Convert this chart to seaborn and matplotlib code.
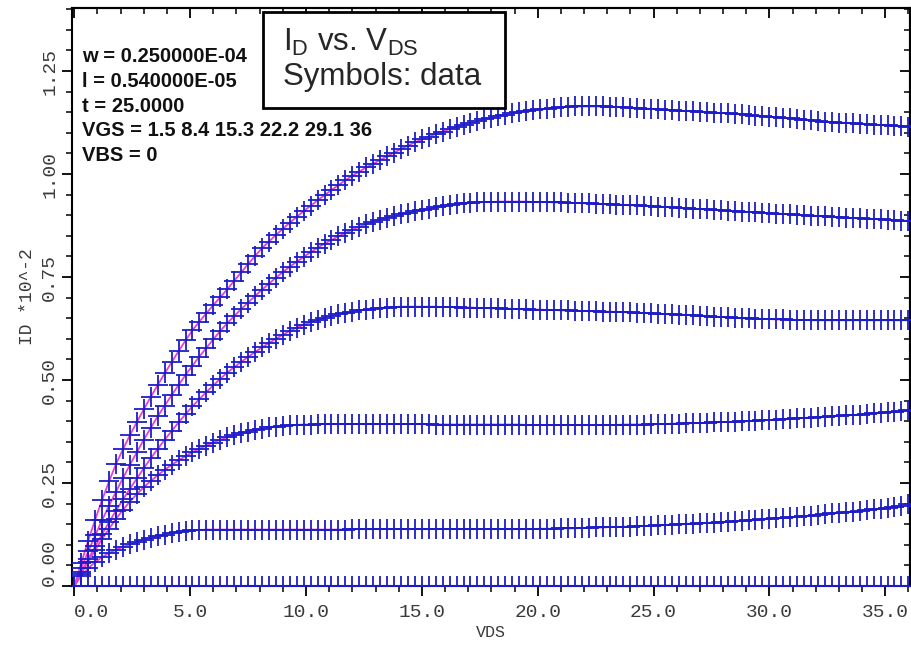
import numpy as np
import pandas as pd
import matplotlib
matplotlib.use("Agg")
import matplotlib.pyplot as plt
from matplotlib.ticker import MultipleLocator, NullFormatter, FixedLocator
from matplotlib.patches import Rectangle
import seaborn as sns

# ---------------------------
# Data: ID (x1e-2 A) vs VDS sweep, one list per VGS
# ---------------------------
VDS_STEP = 0.3
N_POINTS = 121
vds = np.round(np.arange(N_POINTS) * VDS_STEP, 1)

vgs_values = ["1.5", "8.4", "15.3", "22.2", "29.1", "36"]

x_ticks = [0.0, 5.0, 10.0, 15.0, 20.0, 25.0, 30.0, 35.0]
y_ticks = [0.00, 0.25, 0.50, 0.75, 1.00, 1.25]

id_vgs_1p5 = [
    0.0, 0.0, 0.0, 0.0, 0.0, 0.0, 0.0, 0.0, 0.0, 0.0, 0.0, 0.0, 0.0, 0.0, 0.0, 0.0, 0.0, 0.0, 0.0, 0.0,
    0.0, 0.0, 0.0, 0.0, 0.0, 0.0, 0.0, 0.0, 0.0, 0.0, 0.0, 0.0, 0.0, 0.0, 0.0, 0.0, 0.0, 0.0, 0.0, 0.0,
    0.0, 0.0, 0.0, 0.0, 0.0, 0.0, 0.0, 0.0, 0.0, 0.0, 0.0, 0.0, 0.0, 0.0, 0.0, 0.0, 0.0, 0.0, 0.0, 0.0,
    0.0, 0.0, 0.0, 0.0, 0.0, 0.0, 0.0, 0.0, 0.0, 0.0, 0.0, 0.0, 0.0, 0.0, 0.0, 0.0, 0.0, 0.0, 0.0, 0.0,
    0.0, 0.0, 0.0, 0.0, 0.0, 0.0, 0.0, 0.0, 0.0, 0.0, 0.0, 0.0, 0.0, 0.0, 0.0, 0.0, 0.0, 0.0, 0.0, 0.0,
    0.0, 0.0, 0.0, 0.0, 0.0, 0.0, 0.0, 0.0, 0.0, 0.0, 0.0, 0.0, 0.0, 0.0, 0.0, 0.0, 0.0, 0.0, 0.0, 0.0,
    0.0,
]

id_vgs_8p4 = [
    0.000,
    0.025, 0.043, 0.058, 0.070, 0.080, 0.088,
    0.095, 0.101, 0.107, 0.112, 0.117, 0.121,
    0.125, 0.128, 0.131, 0.133, 0.135,
    0.136, 0.137, 0.137, 0.137, 0.137,
    0.137, 0.137, 0.137, 0.137, 0.137,
    0.137, 0.137, 0.137, 0.137, 0.137,
    0.137, 0.137, 0.137, 0.137, 0.137, 0.137, 0.137,
    0.138, 0.138, 0.138, 0.138, 0.138,
    0.138, 0.138, 0.138, 0.138, 0.138,
    0.138, 0.138, 0.138, 0.138, 0.138,
    0.138, 0.138, 0.138, 0.138, 0.138,
    0.138, 0.138, 0.138, 0.138, 0.138,
    0.138, 0.138, 0.139, 0.139, 0.139,
    0.140, 0.140, 0.140, 0.141, 0.141,
    0.142, 0.142, 0.143, 0.143, 0.144,
    0.144, 0.145, 0.146, 0.146, 0.147,
    0.148, 0.149, 0.150, 0.151, 0.151,
    0.152, 0.153, 0.154, 0.155, 0.156,
    0.157, 0.158, 0.159, 0.160, 0.162,
    0.163, 0.164, 0.165, 0.167, 0.168,
    0.170, 0.171, 0.173, 0.174, 0.176,
    0.177, 0.179, 0.180, 0.182, 0.184,
    0.186, 0.188, 0.190, 0.192, 0.195,
    0.198,
]

id_vgs_15p3 = [
    0.000,
    0.030, 0.059, 0.087, 0.114, 0.139, 0.163,
    0.185, 0.205, 0.223, 0.240, 0.255, 0.269,
    0.282, 0.294, 0.305, 0.315, 0.325,
    0.333, 0.341, 0.348, 0.355, 0.361,
    0.366, 0.371, 0.375, 0.379, 0.382,
    0.385, 0.387, 0.389, 0.390, 0.391,
    0.392, 0.392, 0.393, 0.393, 0.393, 0.393, 0.393,
    0.393, 0.393, 0.393, 0.393, 0.393,
    0.393, 0.393, 0.393, 0.393, 0.393,
    0.393, 0.393, 0.392, 0.392, 0.392,
    0.392, 0.392, 0.392, 0.392, 0.392,
    0.392, 0.392, 0.392, 0.392, 0.392,
    0.391, 0.391, 0.391, 0.391, 0.391,
    0.391, 0.391, 0.391, 0.391, 0.391,
    0.391, 0.391, 0.391, 0.391, 0.392,
    0.392, 0.392, 0.392, 0.393, 0.393,
    0.393, 0.394, 0.394, 0.395, 0.395,
    0.396, 0.396, 0.397, 0.398, 0.398,
    0.399, 0.400, 0.400, 0.401, 0.402,
    0.403, 0.404, 0.405, 0.406, 0.407,
    0.408, 0.409, 0.410, 0.411, 0.412,
    0.413, 0.414, 0.415, 0.416, 0.418,
    0.419, 0.420, 0.422, 0.423, 0.425,
    0.427,
]

id_vgs_22p2 = [
    0.000,
    0.033, 0.065, 0.096, 0.126, 0.155, 0.183,
    0.210, 0.236, 0.261, 0.286, 0.310, 0.333,
    0.355, 0.376, 0.397, 0.417, 0.436,
    0.454, 0.471, 0.487, 0.503, 0.518,
    0.531, 0.544, 0.556, 0.568, 0.579,
    0.590, 0.600, 0.610, 0.619, 0.627,
    0.634, 0.640, 0.646, 0.651, 0.656, 0.660, 0.663,
    0.666, 0.669, 0.671, 0.673, 0.675,
    0.676, 0.677, 0.678, 0.678, 0.678,
    0.678, 0.678, 0.678, 0.677, 0.677,
    0.677, 0.676, 0.676, 0.675, 0.675,
    0.674, 0.674, 0.673, 0.673, 0.672,
    0.672, 0.671, 0.671, 0.670, 0.670,
    0.669, 0.669, 0.668, 0.668, 0.667,
    0.667, 0.666, 0.666, 0.665, 0.665,
    0.664, 0.663, 0.663, 0.662, 0.661,
    0.660, 0.660, 0.659, 0.658, 0.657,
    0.656, 0.655, 0.654, 0.653, 0.652,
    0.651, 0.650, 0.650, 0.649, 0.648,
    0.648, 0.647, 0.647, 0.646, 0.646,
    0.646, 0.645, 0.645, 0.645, 0.645,
    0.645, 0.645, 0.645, 0.645, 0.645,
    0.645, 0.645, 0.645, 0.645, 0.645,
    0.645,
]

id_vgs_29p1 = [
    0.000,
    0.043, 0.084, 0.123, 0.160, 0.195, 0.229,
    0.262, 0.294, 0.325, 0.355, 0.384, 0.412,
    0.438, 0.463, 0.488, 0.512, 0.535,
    0.557, 0.578, 0.599, 0.619, 0.638,
    0.655, 0.672, 0.688, 0.704, 0.719,
    0.734, 0.748, 0.762, 0.775, 0.787,
    0.799, 0.810, 0.821, 0.831, 0.840, 0.849, 0.857,
    0.865, 0.872, 0.878, 0.884, 0.889,
    0.894, 0.898, 0.902, 0.906, 0.910,
    0.913, 0.916, 0.919, 0.922, 0.925,
    0.927, 0.929, 0.930, 0.931, 0.932,
    0.932, 0.933, 0.933, 0.933, 0.933,
    0.933, 0.932, 0.932, 0.932, 0.931,
    0.931, 0.930, 0.930, 0.929, 0.929,
    0.928, 0.927, 0.927, 0.926, 0.925,
    0.924, 0.924, 0.923, 0.922, 0.921,
    0.920, 0.919, 0.918, 0.917, 0.916,
    0.915, 0.914, 0.913, 0.912, 0.911,
    0.910, 0.909, 0.908, 0.907, 0.906,
    0.905, 0.904, 0.903, 0.902, 0.901,
    0.900, 0.899, 0.898, 0.897, 0.896,
    0.895, 0.894, 0.893, 0.893, 0.892,
    0.891, 0.890, 0.889, 0.888, 0.887,
    0.886,
]

id_vgs_36 = [
    0.000,
    0.056, 0.110, 0.161, 0.209, 0.254, 0.296,
    0.332, 0.366, 0.398, 0.429, 0.459, 0.488,
    0.516, 0.543, 0.570, 0.596, 0.621,
    0.642, 0.662, 0.682, 0.701, 0.720,
    0.741, 0.761, 0.781, 0.801, 0.820,
    0.836, 0.852, 0.867, 0.882, 0.896,
    0.910, 0.923, 0.936, 0.949, 0.961, 0.973, 0.985,
    0.996, 1.006, 1.016, 1.025, 1.034,
    1.043, 1.052, 1.061, 1.069, 1.077,
    1.084, 1.091, 1.097, 1.103, 1.109,
    1.114, 1.119, 1.124, 1.129, 1.133,
    1.137, 1.141, 1.144, 1.147, 1.150,
    1.153, 1.155, 1.157, 1.159, 1.161,
    1.162, 1.163, 1.164, 1.164, 1.164,
    1.164, 1.164, 1.163, 1.163, 1.162,
    1.161, 1.160, 1.159, 1.158, 1.157,
    1.156, 1.155, 1.154, 1.153, 1.152,
    1.151, 1.150, 1.149, 1.148, 1.147,
    1.146, 1.145, 1.143, 1.142, 1.141,
    1.139, 1.138, 1.136, 1.135, 1.133,
    1.132, 1.130, 1.129, 1.127, 1.126,
    1.125, 1.124, 1.123, 1.122, 1.121,
    1.120, 1.119, 1.118, 1.117, 1.116,
    1.114,
]

curves = [id_vgs_1p5, id_vgs_8p4, id_vgs_15p3, id_vgs_22p2, id_vgs_29p1, id_vgs_36]

info_lines = [
    "w = 0.250000E-04",
    "l = 0.540000E-05",
    "t = 25.0000",
    "VGS = 1.5 8.4 15.3 22.2 29.1 36",
    "VBS = 0",
]

# long-form table for seaborn
df = pd.concat(
    [pd.DataFrame({"vds": vds, "id": c, "vgs": v}) for v, c in zip(vgs_values, curves)],
    ignore_index=True,
)

# ---------------------------
# Figure
# ---------------------------
sns.set_theme(style="white")
plt.rcParams["font.family"] = ["Liberation Sans", "DejaVu Sans"]

W, H = 912, 648
fig = plt.figure(figsize=(W / 100, H / 100), dpi=100)
ax = fig.add_axes([72 / W, 62 / H, (910 - 72) / W, (586 - 8) / H])

mono = "Liberation Mono"
tick_gray = "#3a3a3a"
blue = "#1c1cc8"
pink = "#e640d2"

sns.lineplot(data=df, x="vds", y="id", hue="vgs", palette=[pink] * len(vgs_values),
             legend=False, estimator=None, linewidth=1.3, ax=ax, zorder=2)
sns.scatterplot(data=df, x="vds", y="id", color=blue, marker="+", s=190,
                linewidth=1.3, legend=False, ax=ax, zorder=3)

ax.set_xlim(-0.1, 36.07)
ax.set_ylim(0, 1.403)

ax.xaxis.set_major_locator(FixedLocator(x_ticks))
ax.xaxis.set_minor_locator(MultipleLocator(1))
ax.yaxis.set_major_locator(FixedLocator(y_ticks))
ax.yaxis.set_minor_locator(MultipleLocator(0.05))
ax.set_xticklabels([f"{t:.1f}" for t in x_ticks], fontfamily=mono)
ax.set_yticklabels([f"{t:.2f}" for t in y_ticks], fontfamily=mono, rotation=90, va="center")

ax.tick_params(axis="both", which="major", direction="out", length=7, width=1.3,
               color="black", labelcolor=tick_gray, labelsize=14)
ax.tick_params(axis="both", which="minor", direction="out", length=4, width=1.1,
               color="black")
ax.tick_params(axis="x", which="major", pad=6)
ax.tick_params(axis="y", which="major", pad=3)
ax.tick_params(bottom=True, left=True, which="both")

# edge labels are pushed inward, as in the original
ax.get_xticklabels()[0].set_ha("left")
ax.get_yticklabels()[0].set_va("bottom")

# ticks on top and right point into the plot
top = ax.secondary_xaxis("top")
top.xaxis.set_major_locator(FixedLocator(x_ticks))
top.xaxis.set_minor_locator(MultipleLocator(1))
top.xaxis.set_major_formatter(NullFormatter())
top.tick_params(which="major", direction="in", length=7, width=1.3, color="black")
top.tick_params(which="minor", direction="in", length=4, width=1.1, color="black")
right = ax.secondary_yaxis("right")
right.yaxis.set_major_locator(FixedLocator(y_ticks))
right.yaxis.set_minor_locator(MultipleLocator(0.05))
right.yaxis.set_major_formatter(NullFormatter())
right.tick_params(which="major", direction="in", length=7, width=1.3, color="black")
right.tick_params(which="minor", direction="in", length=4, width=1.1, color="black")

for sp in ax.spines.values():
    sp.set_color("black")
    sp.set_linewidth(1.5)
for sec in (top, right):
    for sp in sec.spines.values():
        sp.set_linewidth(1.5)

ax.set_xlabel("VDS", fontfamily=mono, fontsize=12, color=tick_gray, labelpad=3)
ax.set_ylabel("ID *10^-2", fontfamily=mono, fontsize=13, color=tick_gray, labelpad=4)

# parameter block, upper left
for i, line in enumerate(info_lines):
    fig.text(82 / W, 1 - (57 + i * 24.5) / H, line, fontsize=14.5, fontweight="bold",
             color="#111111", ha="left", va="center")

# title box
fig.patches.append(Rectangle((263 / W, 1 - 108 / H), (505 - 263) / W, (108 - 12) / H,
                             transform=fig.transFigure, facecolor="white",
                             edgecolor="black", linewidth=2, zorder=5))
fig.text(283 / W, 1 - 42 / H, r"$\mathregular{I_D}$ vs. $\mathregular{V_{DS}}$",
         fontsize=22.5, ha="left", va="center", zorder=6)
fig.text(283 / W, 1 - 77 / H, "Symbols: data", fontsize=22.5, ha="left", va="center",
         zorder=6)

fig.savefig("out.png", dpi=100)
